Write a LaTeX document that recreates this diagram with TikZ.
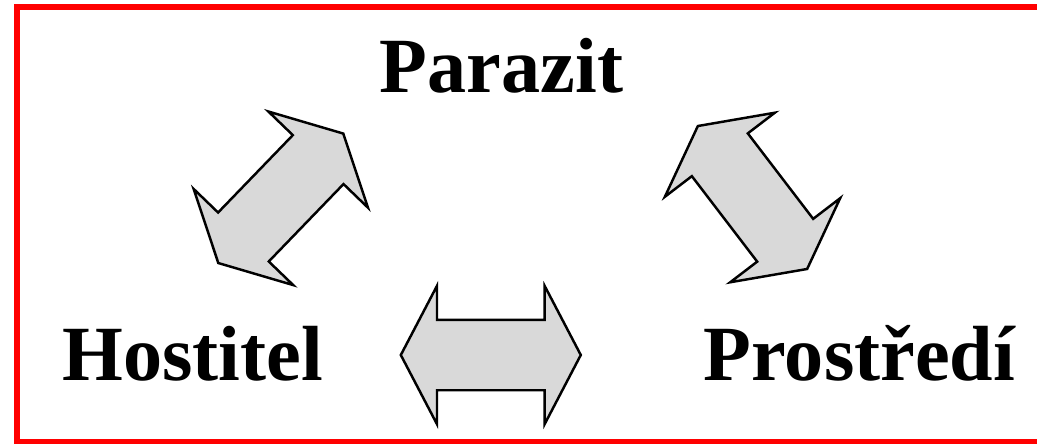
\documentclass[tikz,border=0pt]{standalone}
\usepackage{fontspec}
\setmainfont{Liberation Serif}
\usetikzlibrary{shapes.arrows}
\definecolor{frameRed}{HTML}{FF0000}
\definecolor{arrowGray}{HTML}{D9D9D9}

\begin{document}
\begin{tikzpicture}[
    x=0.02cm, y=-0.02cm,
    label/.style={inner sep=0pt, anchor=base, font=\fontsize{44.5}{50}\selectfont\bfseries},
    bigarrow/.style={double arrow, draw=black, fill=arrowGray, line width=1.4pt,
      minimum height=3.6cm, inner xsep=0pt, inner ysep=0.68cm,
      double arrow head extend=0.68cm, double arrow tip angle=124.8},
    frame/.style={draw=frameRed, line width=0.12cm}
  ]
    \useasboundingbox (0,0) rectangle (1037,443);
    \draw[frame] (17,7) rectangle (1045,442);

    \node[label] (parazit) at (501.5,92) {Parazit};
    \node[label] (hostitel) at (192.5,380) {Hostitel};
    \node[label] (prostredi) at (859.5,380) {Prostředí};

    \node[bigarrow, rotate=46] (hp) at (280.8,198.3) {};
    \node[bigarrow, rotate=-52.6] (pp) at (752.5,197.5) {};
    \node[bigarrow] (hpr) at (490.8,355) {};
  \end{tikzpicture}
\end{document}
